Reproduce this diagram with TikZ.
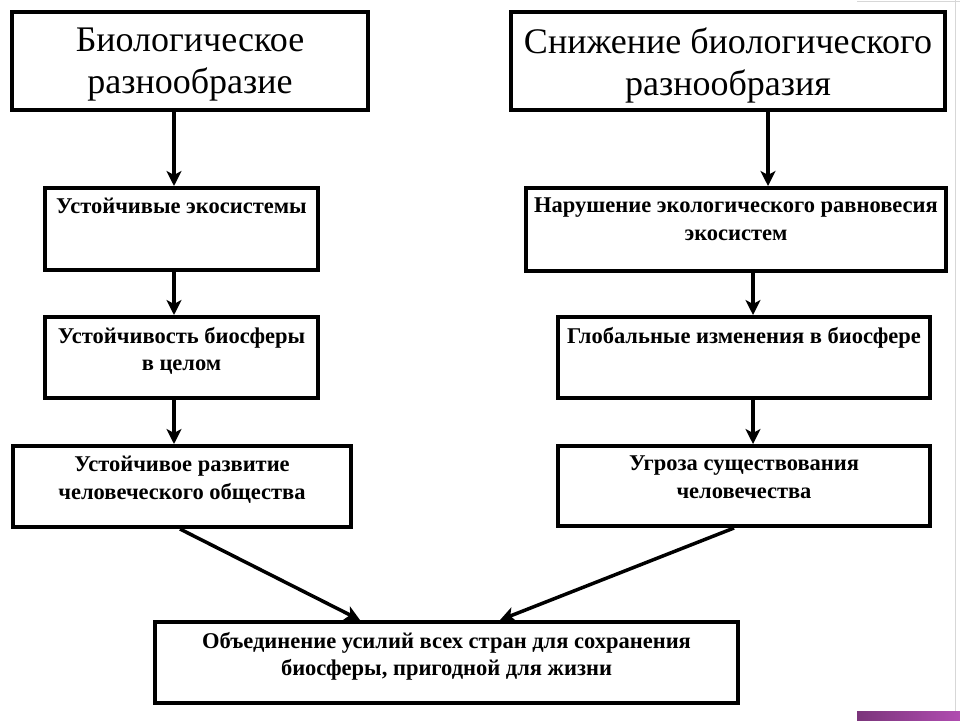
\documentclass[tikz,border=0pt]{standalone}
\usepackage{fontspec}
\setmainfont{Liberation Serif}
\usetikzlibrary{arrows.meta}
\definecolor{slidepurple}{RGB}{176,76,176}
\definecolor{slidegrey}{RGB}{215,215,215}
\begin{document}
\begin{tikzpicture}[x=1pt,y=-1pt,
  box/.style={draw=black, line width=4pt, rectangle, inner sep=0pt},
  toptext/.style={anchor=center, align=center, inner sep=0pt, yshift=-4pt,
    font=\fontsize{36}{42}\selectfont},
  lowtext/.style={anchor=north, align=center, inner sep=0pt, yshift=-12pt,
    font=\fontsize{22.5}{27.5}\selectfont\bfseries},
  arr/.style={line width=3.5pt, -{Stealth[length=15pt,width=15pt,inset=4pt]}}]
\useasboundingbox (0,0) rectangle (960,720);
\fill[white] (0,0) rectangle (960,720);
% slide artefacts
\draw[slidegrey, line width=1pt] (857,1) -- (960,1);
\draw[slidegrey, line width=1pt] (955,0) -- (955,720);
\shade[left color=slidepurple!70!black, right color=slidepurple] (857,711) rectangle (960,720);
% boxes
\node[box, minimum width=356pt, minimum height=98pt,
  label={[toptext]center:Биологическое\\разнообразие}] (b1) at (190,61) {};
\node[box, minimum width=273pt, minimum height=82pt,
  label={[lowtext]north:Устойчивые экосистемы}] (b2) at (181.5,229) {};
\node[box, minimum width=273pt, minimum height=81pt,
  label={[lowtext]north:Устойчивость биосферы\\в целом}] (b3) at (181.5,357.5) {};
\node[box, minimum width=338pt, minimum height=81pt,
  label={[lowtext]north:Устойчивое развитие\\человеческого общества}] (b4) at (182,486.5) {};
\node[box, minimum width=434pt, minimum height=98pt,
  label={[toptext]center:Снижение биологического\\разнообразия}] (r1) at (728,61) {};
\node[box, minimum width=420pt, minimum height=83pt,
  label={[lowtext]north:Нарушение экологического равновесия\\экосистем}] (r2) at (736,229.5) {};
\node[box, minimum width=372pt, minimum height=81pt,
  label={[lowtext]north:Глобальные изменения в биосфере}] (r3) at (744,357.5) {};
\node[box, minimum width=372pt, minimum height=80pt,
  label={[lowtext]north:Угроза существования\\человечества}] (r4) at (744,486) {};
\node[box, minimum width=583pt, minimum height=81pt,
  label={[lowtext]north:Объединение усилий всех стран для сохранения\\биосферы, пригодной для жизни}] (bot) at (446.5,662.5) {};
% connector columns
\coordinate (lx) at (174,0);
\coordinate (rxa) at (768,0);
\coordinate (rxb) at (753,0);
\coordinate (ls) at (180,0);
\coordinate (rs) at (734,0);
\coordinate (lt) at (360,0);
\coordinate (rt) at (500,0);
\draw[arr] (b1.south -| lx) -- (b2.north -| lx);
\draw[arr] (b2.south -| lx) -- (b3.north -| lx);
\draw[arr] (b3.south -| lx) -- (b4.north -| lx);
\draw[arr] (r1.south -| rxa) -- (r2.north -| rxa);
\draw[arr] (r2.south -| rxb) -- (r3.north -| rxb);
\draw[arr] (r3.south -| rxb) -- (r4.north -| rxb);
\draw[arr] (b4.south -| ls) -- (bot.north -| lt);
\draw[arr] (r4.south -| rs) -- (bot.north -| rt);
\end{tikzpicture}
\end{document}
